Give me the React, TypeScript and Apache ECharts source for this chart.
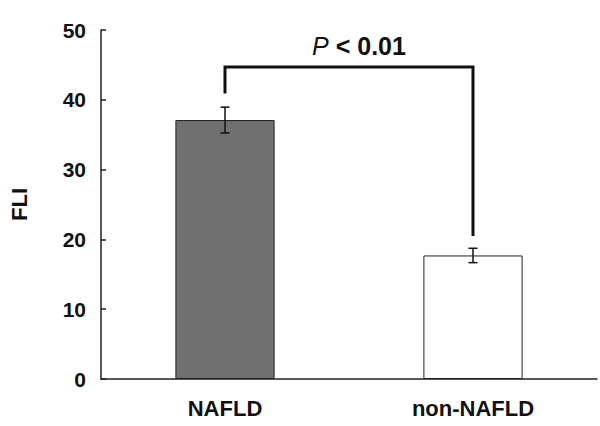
import React, { useEffect, useRef } from "react";
import * as echarts from "echarts";

const categories = ["NAFLD", "non-NAFLD"];
const means = [37.1, 17.7];
const errors = [1.85, 1.03];
const barColors = ["#707070", "#ffffff"];
const yTicks = [0, 10, 20, 30, 40, 50];
// significance bracket: [leftBottom, top, rightBottom] in data units
const bracketLevels = [40.9, 44.7, 20.5];
const pLabel = { italic: "P", rest: " < 0.01" };

export default function App() {
  const ref = useRef<HTMLDivElement>(null);
  useEffect(() => {
    if (!ref.current) return;
    const chart = echarts.init(ref.current, null, { renderer: "svg" });
    const font = "'Liberation Sans', Arial, sans-serif";
    chart.setOption({
      animation: false,
      backgroundColor: "#ffffff",
      grid: { left: 100, right: 3, top: 30, bottom: 47 },
      xAxis: {
        type: "category",
        data: categories,
        axisLine: { lineStyle: { color: "#222", width: 1.5 } },
        axisTick: { show: false },
        axisLabel: {
          color: "#111",
          fontFamily: font,
          fontWeight: "bold",
          fontSize: 22,
          margin: 18,
        },
      },
      yAxis: {
        type: "value",
        min: yTicks[0],
        max: yTicks[yTicks.length - 1],
        interval: 10,
        name: "FLI",
        nameLocation: "middle",
        nameGap: 71,
        nameTextStyle: { color: "#111", fontFamily: font, fontWeight: "bold", fontSize: 22 },
        axisLine: { show: true, lineStyle: { color: "#222", width: 1.5 } },
        axisTick: { show: true, inside: true, length: 5, lineStyle: { color: "#222", width: 1.5 } },
        splitLine: { show: false },
        axisLabel: {
          color: "#111",
          fontFamily: font,
          fontWeight: "bold",
          fontSize: 21,
          margin: 15,
        },
      },
      series: [
        {
          type: "bar",
          barWidth: "40%",
          data: means.map((v, i) => ({
            value: v,
            itemStyle: { color: barColors[i], borderColor: "#222", borderWidth: 1 },
          })),
          z: 2,
        },
        {
          type: "custom",
          z: 3,
          data: means.map((m, i) => [i, m - errors[i], m + errors[i]]),
          renderItem: (params: any, api: any) => {
            const x = api.value(0);
            const lo = api.coord([x, api.value(1)]);
            const hi = api.coord([x, api.value(2)]);
            const hw = 4.5;
            const style = { stroke: "#111", lineWidth: 1.5 };
            return {
              type: "group",
              children: [
                { type: "line", shape: { x1: hi[0], y1: hi[1], x2: lo[0], y2: lo[1] }, style },
                { type: "line", shape: { x1: hi[0] - hw, y1: hi[1], x2: hi[0] + hw, y2: hi[1] }, style },
                { type: "line", shape: { x1: lo[0] - hw, y1: lo[1], x2: lo[0] + hw, y2: lo[1] }, style },
              ],
            };
          },
        },
        {
          type: "custom",
          z: 4,
          data: [[0, 1, bracketLevels[0], bracketLevels[1], bracketLevels[2]]],
          renderItem: (params: any, api: any) => {
            const a = api.coord([api.value(0), api.value(2)]);
            const t1 = api.coord([api.value(0), api.value(3)]);
            const t2 = api.coord([api.value(1), api.value(3)]);
            const b = api.coord([api.value(1), api.value(4)]);
            return {
              type: "group",
              children: [
                {
                  type: "polyline",
                  shape: { points: [a, t1, t2, b] },
                  style: { stroke: "#111", lineWidth: 3, fill: "none" },
                },
                {
                  type: "text",
                  x: (t1[0] + t2[0]) / 2 + 10,
                  y: t1[1] - 21,
                  style: {
                    text: "{i|" + pLabel.italic + "}{b|" + pLabel.rest + "}",
                    align: "center",
                    verticalAlign: "middle",
                    rich: {
                      i: { fontFamily: font, fontStyle: "italic", fontSize: 25, fill: "#111" },
                      b: { fontFamily: font, fontWeight: "bold", fontSize: 25, fill: "#111" },
                    },
                  },
                },
              ],
            };
          },
        },
      ],
    });
    return () => chart.dispose();
  }, []);
  return (
    <div
      ref={ref}
      style={{ position: "absolute", left: 0, top: 0, width: 600, height: 426 }}
    />
  );
}
